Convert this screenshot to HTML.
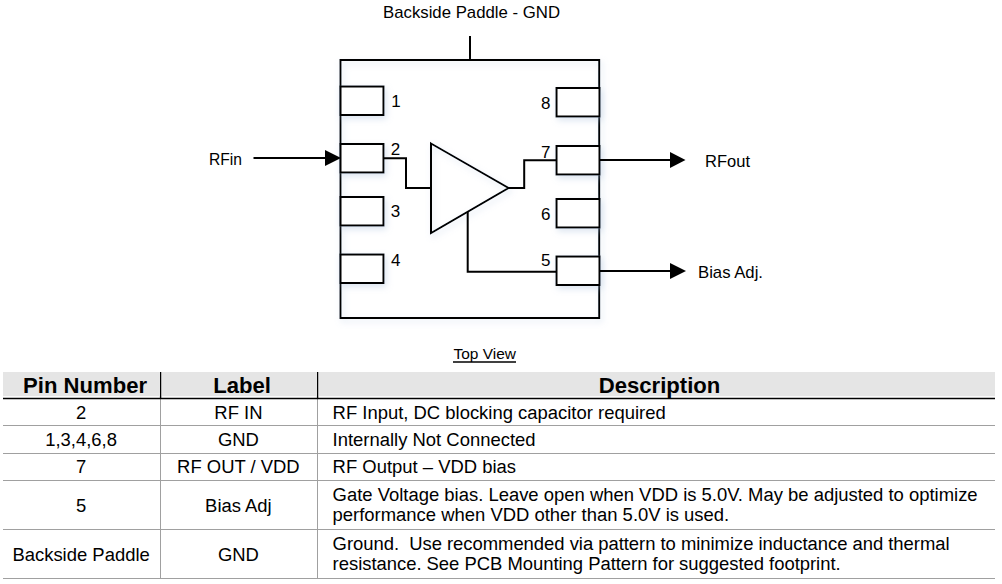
<!DOCTYPE html>
<html><head><meta charset="utf-8">
<style>
html,body{margin:0;padding:0;background:#fff;width:1002px;height:584px;overflow:hidden;}
svg{position:absolute;left:0;top:0;}
.d{font-family:"Liberation Sans",sans-serif;fill:#000;}
</style></head>
<body>
<svg width="1002" height="584" viewBox="0 0 1002 584">
<defs>
<filter id="sh" x="-30%" y="-30%" width="160%" height="180%">
<feGaussianBlur in="SourceAlpha" stdDeviation="3"/>
<feOffset dx="1.5" dy="3" result="b"/>
<feFlood flood-color="#a8bedb" flood-opacity="0.4"/>
<feComposite in2="b" operator="in"/>
<feMerge><feMergeNode/><feMergeNode in="SourceGraphic"/></feMerge>
</filter>
</defs>

<g fill="none" stroke="#000" stroke-width="2">
<line x1="470" y1="36" x2="470" y2="60"/>
<rect x="340.5" y="60" width="258.7" height="258" filter="url(#sh)"/>
<rect x="340.5" y="86.5" width="43" height="28.5" fill="#fff" filter="url(#sh)"/>
<rect x="340.5" y="144" width="43" height="28.5" fill="#fff" filter="url(#sh)"/>
<rect x="340.5" y="197" width="43" height="28.5" fill="#fff" filter="url(#sh)"/>
<rect x="340.5" y="254.5" width="43" height="28.5" fill="#fff" filter="url(#sh)"/>
<rect x="556.5" y="88" width="43" height="28.5" fill="#fff" filter="url(#sh)"/>
<rect x="556.5" y="146" width="43" height="28.5" fill="#fff" filter="url(#sh)"/>
<rect x="556.5" y="199" width="43" height="28.5" fill="#fff" filter="url(#sh)"/>
<rect x="556.5" y="256.5" width="43" height="28.5" fill="#fff" filter="url(#sh)"/>
<polygon points="431,143.5 508.5,188 431,233" filter="url(#sh)"/>
<polyline points="383.5,158.3 406,158.3 406,188 431,188"/>
<polyline points="508.5,188 524.2,188 524.2,160.2 556.8,160.2"/>
<polyline points="467.7,212 467.7,271.7 556.8,271.7"/>
<line x1="253.5" y1="158" x2="326" y2="158"/>
<line x1="599.5" y1="160" x2="672" y2="160"/>
<line x1="599.5" y1="271" x2="672" y2="271"/>
</g>
<g fill="#000">
<polygon points="325,150 341,158 325,166"/>
<polygon points="670,152 685.5,160 670,168"/>
<polygon points="670,263 686,271 670,279"/>
</g>
<g class="d" font-size="17">
<text x="383" y="18" textLength="177" lengthAdjust="spacingAndGlyphs">Backside Paddle - GND</text>
<text x="209" y="165" textLength="33" lengthAdjust="spacingAndGlyphs">RFin</text>
<text x="705" y="167" textLength="45" lengthAdjust="spacingAndGlyphs">RFout</text>
<text x="698" y="278" textLength="65" lengthAdjust="spacingAndGlyphs">Bias Adj.</text>
<text x="391.2" y="107">1</text>
<text x="390.8" y="155">2</text>
<text x="390.8" y="216.6">3</text>
<text x="391" y="266.2">4</text>
<text x="541" y="266">5</text>
<text x="541" y="220">6</text>
<text x="541" y="157.6">7</text>
<text x="541" y="109">8</text>
</g>
<g id="tbl">
<g fill="#e5e5e5">
<rect x="3" y="372" width="156" height="24.2"/>
<rect x="162" y="372" width="154" height="24.2"/>
<rect x="319" y="372" width="676" height="24.2"/>
</g>
<g stroke="#a0a0a0" stroke-width="1" fill="none">
<line x1="3" y1="425.5" x2="995" y2="425.5"/>
<line x1="3" y1="453.5" x2="995" y2="453.5"/>
<line x1="3" y1="480.5" x2="995" y2="480.5"/>
<line x1="3" y1="529.5" x2="995" y2="529.5"/>
<line x1="3" y1="578.5" x2="995" y2="578.5"/>
<line x1="160.5" y1="399" x2="160.5" y2="579"/>
<line x1="317.5" y1="399" x2="317.5" y2="579"/>
</g>
<g stroke="#000" fill="none">
<line x1="160.6" y1="372" x2="160.6" y2="398" stroke-width="1.4"/>
<line x1="317.6" y1="372" x2="317.6" y2="398" stroke-width="1.4"/>
<line x1="3" y1="398.5" x2="995" y2="398.5" stroke-width="1.3"/>
</g>
<g font-family="Liberation Sans" font-weight="bold" font-size="22.1" text-anchor="middle">
<text x="85.1" y="392.8">Pin Number</text>
<text x="242" y="392.8">Label</text>
<text x="659.5" y="392.8">Description</text>
</g>
<g font-family="Liberation Sans" font-size="18.45" xml:space="preserve">
<g text-anchor="middle">
<text x="81.1" y="419">2</text>
<text x="81.1" y="446">1,3,4,6,8</text>
<text x="81.1" y="473.2">7</text>
<text x="81.1" y="511.5">5</text>
<text x="81.1" y="561">Backside Paddle</text>
<text x="238.4" y="419">RF IN</text>
<text x="238.4" y="446">GND</text>
<text x="238.4" y="473.2">RF OUT / VDD</text>
<text x="238.4" y="511.5">Bias Adj</text>
<text x="238.4" y="561">GND</text>
</g>
<text x="332.6" y="419">RF Input, DC blocking capacitor required</text>
<text x="332.6" y="446">Internally Not Connected</text>
<text x="332.6" y="473.2">RF Output – VDD bias</text>
<text x="332.6" y="501.3">Gate Voltage bias. Leave open when VDD is 5.0V. May be adjusted to optimize</text>
<text x="332.6" y="521.3">performance when VDD other than 5.0V is used.</text>
<text x="332.6" y="549.9" textLength="617" lengthAdjust="spacing">Ground.&#160; Use recommended via pattern to minimize inductance and thermal</text>
<text x="332.6" y="570.4" textLength="508" lengthAdjust="spacing">resistance. See PCB Mounting Pattern for suggested footprint.</text>
</g>
<text font-family="Liberation Sans" font-size="15" x="453.5" y="359.1" textLength="62.4" lengthAdjust="spacingAndGlyphs">Top View</text>
<line x1="453" y1="362" x2="516" y2="362" stroke="#000" stroke-width="1.6"/>
</g>
</svg>
</body></html>
